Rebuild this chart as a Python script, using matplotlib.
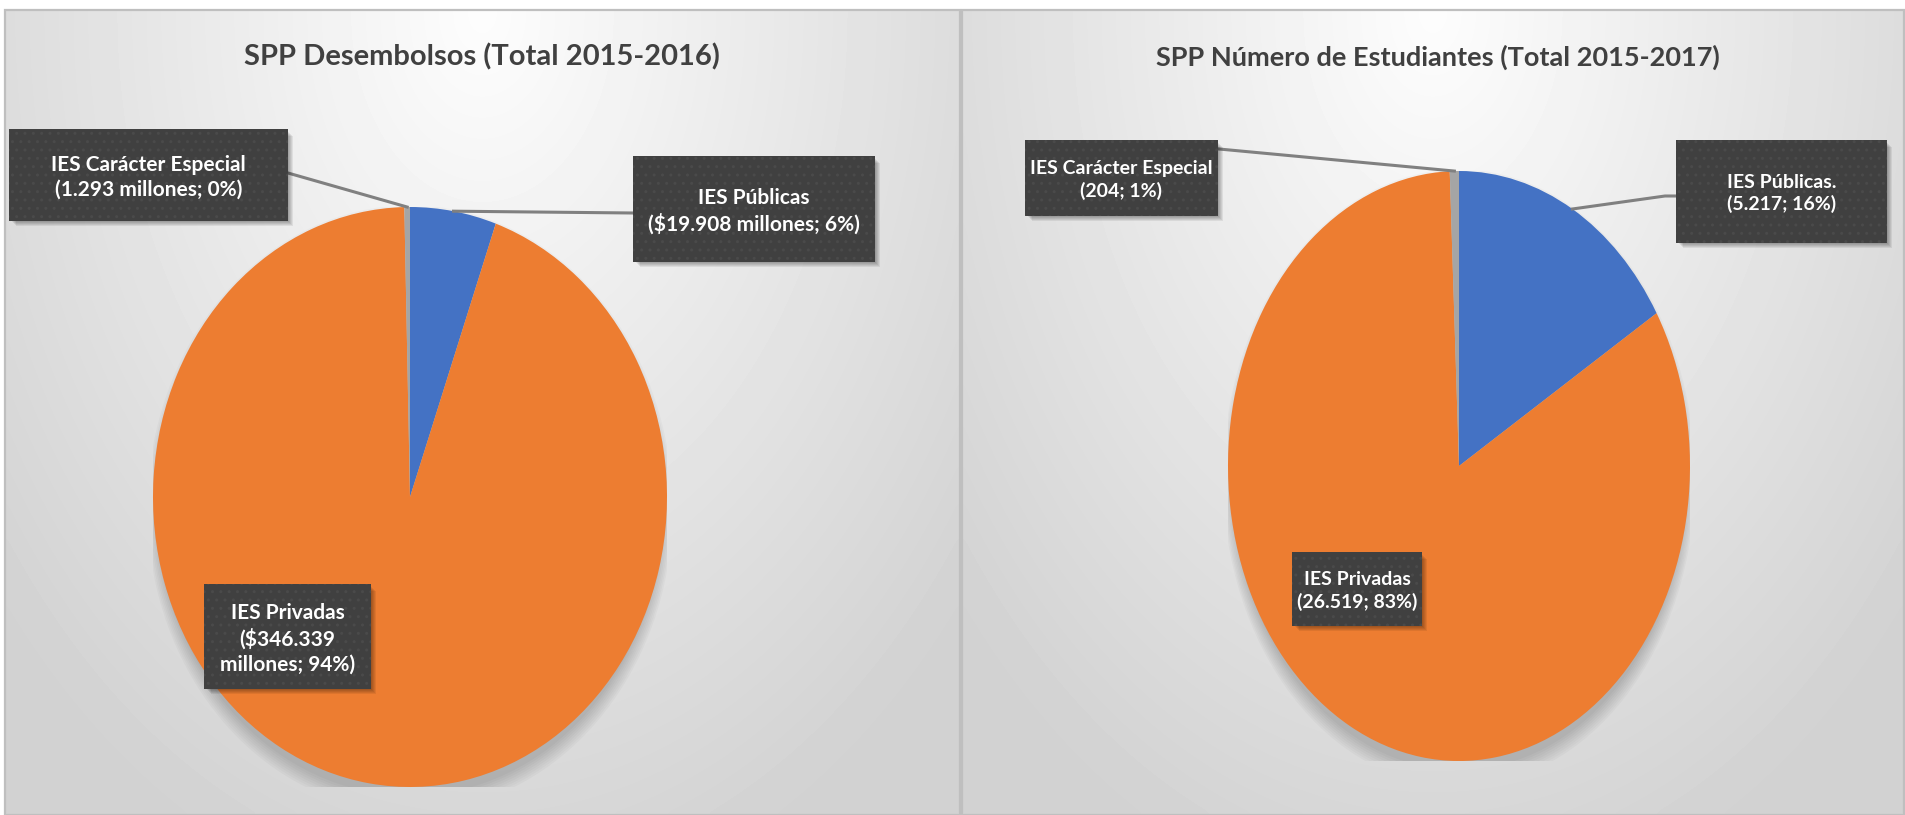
import numpy as np
import matplotlib
matplotlib.use("Agg")
import matplotlib.pyplot as plt
from matplotlib import font_manager
from matplotlib.patches import Rectangle, Ellipse
from matplotlib.lines import Line2D

W, H = 1906, 815

# --- data -----------------------------------------------------------------
categorias = ["IES Públicas", "IES Privadas", "IES Carácter Especial"]
desembolsos = [19908, 346339, 1293]      # millones de pesos
estudiantes = [5217, 26519, 204]
colores = ["#4472C4", "#ED7D31", "#A5A5A5"]

titulos = ["SPP Desembolsos (Total 2015-2016)",
           "SPP Número de Estudiantes (Total 2015-2017)"]
etiquetas_desembolsos = ["IES Públicas\n($19.908 millones; 6%)",
                         "IES Privadas\n($346.339\nmillones; 94%)",
                         "IES Carácter Especial\n(1.293 millones; 0%)"]
etiquetas_estudiantes = ["IES Públicas.\n(5.217; 16%)",
                         "IES Privadas\n(26.519; 83%)",
                         "IES Carácter Especial\n(204; 1%)"]


def pick_font(names):
    for n in names:
        try:
            font_manager.findfont(font_manager.FontProperties(family=n),
                                  fallback_to_default=False)
            return n
        except ValueError:
            pass
    return "DejaVu Sans"


FONT = pick_font(["Lato", "Open Sans", "DejaVu Sans"])


def fx(x):
    return x / W


def fy(y):
    return 1 - y / H


fig = plt.figure(figsize=(W / 100, H / 100), dpi=100)
fig.patch.set_facecolor("white")

# panel layout in pixels: (x0, x1, y_top), pie ellipse (cx, cy, rx, ry)
paneles = [
    dict(x0=5, x1=960, top=10, pie=(410, 497, 257, 290), title_x=482,
         title_fs=21, label_fs=15,
         valores=desembolsos, etiquetas=etiquetas_desembolsos, titulo=titulos[0],
         # label boxes: x0, y0, x1, y1 and leader anchor points (px)
         cajas=[((633, 156, 875, 262), [(633, 213)]),
                ((204, 584, 371, 689), None),
                ((9, 129, 288, 221), [(288, 173)])]),
    dict(x0=962, x1=1904, top=10, pie=(1459, 466, 231, 295), title_x=1438,
         title_fs=19.5, label_fs=14,
         valores=estudiantes, etiquetas=etiquetas_estudiantes, titulo=titulos[1],
         cajas=[((1676, 140, 1887, 243), [(1676, 196), (1665, 196)]),
                ((1292, 552, 1422, 626), None),
                ((1025, 140, 1218, 216), [(1219, 149)])]),
]


def rect_px(x0, y0, x1, y1, **kw):
    return Rectangle((fx(x0), fy(y1)), fx(x1) - fx(x0), fy(y0) - fy(y1),
                     transform=fig.transFigure, **kw)


for p in paneles:
    # background with soft gradient
    bg = fig.add_axes([fx(p["x0"]), 0, fx(p["x1"]) - fx(p["x0"]), fy(p["top"])])
    bg.set_zorder(0)
    nx, ny = 200, 160
    xx, yy = np.meshgrid(np.linspace(-1, 1, nx), np.linspace(0, 1, ny))
    r = np.sqrt((xx * 0.9) ** 2 + (yy * 1.05) ** 2)
    g = np.clip(253 - 36 * r, 210, 253) / 255.0
    bg.imshow(g, cmap="gray", vmin=0, vmax=1, aspect="auto",
              extent=(0, 1, 0, 1), origin="upper", interpolation="bicubic")
    bg.set_xlim(0, 1)
    bg.set_ylim(0, 1)
    bg.axis("off")
    fig.patches.append(rect_px(p["x0"], p["top"], p["x1"], H, fill=False,
                               edgecolor="#bfbfbf", linewidth=1.6, zorder=1))

    fig.text(fx(p["title_x"]), fy(57), p["titulo"], ha="center", va="center",
             fontsize=p["title_fs"], fontweight="bold", color="#404040",
             family=FONT, zorder=5)

    # pie
    cx, cy, rx, ry = p["pie"]
    ax = fig.add_axes([fx(cx - rx), fy(cy + ry), 2 * rx / W, 2 * ry / H])
    ax.set_zorder(2)
    for i in range(8):
        ax.add_patch(Ellipse((0.0, -0.04), 1.96 + 0.012 * i, 1.98 + 0.016 * i,
                             facecolor="black", edgecolor="none", alpha=0.022,
                             zorder=0))
    wedges, _ = ax.pie(p["valores"], colors=colores, startangle=90,
                       counterclock=False, radius=1,
                       wedgeprops=dict(linewidth=0))
    ax.set_xlim(-1, 1)
    ax.set_ylim(-1, 1)
    ax.set_aspect("auto")
    ax.axis("off")

    total = float(sum(p["valores"]))
    acum = 0.0
    to_fig = ax.transData + fig.transFigure.inverted()
    for val, label, (caja, anclas) in zip(p["valores"], p["etiquetas"], p["cajas"]):
        mid = np.deg2rad(90 - 360 * (acum + val / 2) / total)
        acum += val
        bx0, by0, bx1, by1 = caja
        if anclas:
            pt = to_fig.transform((np.cos(mid), np.sin(mid)))
            xs = [fx(a[0]) for a in anclas] + [pt[0]]
            ys = [fy(a[1]) for a in anclas] + [pt[1]]
            fig.lines.append(Line2D(xs, ys, transform=fig.transFigure,
                                    color="#808080", linewidth=2.2, zorder=6))
        # soft drop shadow
        for k in range(1, 6):
            fig.patches.append(rect_px(bx0 + 2 + k, by0 + 2 + k, bx1 + k, by1 + k,
                                       facecolor="black", edgecolor="none",
                                       alpha=0.07, zorder=6.5))
        fig.patches.append(rect_px(bx0, by0, bx1, by1, facecolor="#404040",
                                   edgecolor="#4a4a4a", linewidth=0,
                                   hatch="..", zorder=7))
        fig.text(fx((bx0 + bx1) / 2), fy((by0 + by1) / 2 + 2), label,
                 ha="center", va="center", multialignment="center",
                 fontsize=p["label_fs"], fontweight="bold", color="white",
                 family=FONT, linespacing=1.3, zorder=8)

fig.savefig("out.png", dpi=100)
